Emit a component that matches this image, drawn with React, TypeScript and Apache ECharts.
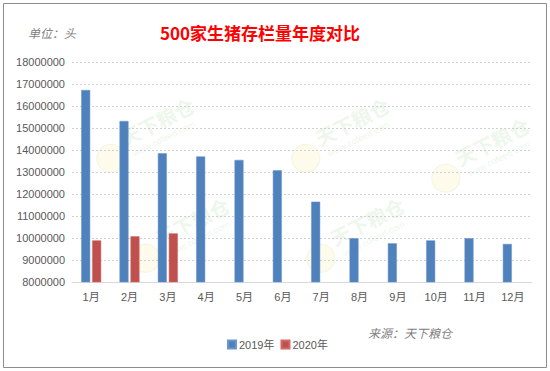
import React, { useEffect, useRef } from "react";
import * as echarts from "echarts";

const months = ["1月", "2月", "3月", "4月", "5月", "6月", "7月", "8月", "9月", "10月", "11月", "12月"];
const series2019 = [16730000, 15320000, 13850000, 13710000, 13550000, 13080000, 11650000, 9990000, 9760000, 9890000, 9990000, 9730000];
const series2020 = [9890000, 10080000, 10210000, null, null, null, null, null, null, null, null, null];
const seriesNames = ["2019年", "2020年"];
const titleText = "500家生猪存栏量年度对比";
const unitText = "单位：头";
const sourceText = "来源：天下粮仓";

const watermarks = [
  { x: 150, y: 125 },
  { x: 185, y: 225 },
  { x: 345, y: 125 },
  { x: 360, y: 225 },
  { x: 485, y: 145 },
];

export default function App() {
  const ref = useRef<HTMLDivElement>(null);
  useEffect(() => {
    if (!ref.current) return;
    const chart = echarts.init(ref.current, null, { renderer: "svg" });
    const font = "'Liberation Sans', 'Noto Sans CJK SC', sans-serif";
    const wm: any[] = [];
    watermarks.forEach((w) => {
      wm.push({
        type: "group",
        x: w.x,
        y: w.y,
        rotation: 0.47,
        silent: true,
        z: 0,
        children: [
          { type: "circle", shape: { cx: -50, cy: 12, r: 14 }, style: { fill: "rgba(245,225,130,0.15)", stroke: "rgba(200,220,140,0.22)", lineWidth: 1 } },
          { type: "text", x: -32, y: -10, style: { text: "天下粮仓", fill: "rgba(150,205,130,0.18)", font: "bold 20px 'Noto Sans CJK SC'" } },
          { type: "text", x: -28, y: 14, style: { text: "www.cofeed.com", fill: "rgba(150,205,130,0.2)", font: "9px 'Liberation Sans'" } },
        ],
      });
    });
    chart.setOption({
      animation: false,
      backgroundColor: "#ffffff",
      textStyle: { fontFamily: font },
      grid: { left: 72, right: 18, top: 62, bottom: 89, containLabel: false },
      legend: {
        data: seriesNames,
        left: 222,
        top: 334,
        itemWidth: 8,
        itemHeight: 8,
        itemGap: 6,
        icon: "rect",
        textStyle: { fontSize: 11, color: "#595959", fontFamily: font, padding: [0, 0, 0, -2] },
      },
      xAxis: {
        type: "category",
        data: months,
        axisLine: { lineStyle: { color: "#d9d9d9" } },
        axisTick: { show: false },
        axisLabel: { color: "#595959", fontSize: 11, margin: 9, fontFamily: font },
      },
      yAxis: {
        type: "value",
        min: 8000000,
        max: 18000000,
        interval: 1000000,
        axisLine: { show: false },
        axisTick: { show: false },
        axisLabel: { color: "#595959", fontSize: 11, margin: 7, fontFamily: font, formatter: (v: number) => String(v) },
        splitLine: { lineStyle: { color: "#d0d0d0", type: [2, 2] } },
      },
      series: [
        {
          name: seriesNames[0],
          type: "bar",
          data: series2019,
          barWidth: 9,
          barGap: "22%",
          itemStyle: { color: "#4f81bd", borderColor: "#6a96cc", borderWidth: 0.5 },
          z: 3,
        },
        {
          name: seriesNames[1],
          type: "bar",
          data: series2020,
          barWidth: 9,
          itemStyle: { color: "#c0504d", borderColor: "#d06a66", borderWidth: 0.5 },
          z: 3,
        },
      ],
      graphic: [
        ...wm,
        { type: "rect", shape: { x: 3.5, y: 3.5, width: 543, height: 364 }, style: { fill: "none", stroke: "#8c8c8c", lineWidth: 1 }, silent: true },
        { type: "text", left: 160, top: 24, style: { text: titleText, fill: "#ff0000", font: "bold 17px 'Noto Sans CJK SC'" } },
        { type: "text", left: 28, top: 26, style: { text: unitText, fill: "#7f7f7f", font: "italic 12px 'Noto Sans CJK SC'" } },
        { type: "text", left: 368, top: 326, style: { text: sourceText, fill: "#7f7f7f", font: "italic 12px 'Noto Sans CJK SC'" } },
      ],
    });
    return () => chart.dispose();
  }, []);
  return <div ref={ref} style={{ position: "fixed", left: 0, top: 0, width: 550, height: 371 }} />;
}
